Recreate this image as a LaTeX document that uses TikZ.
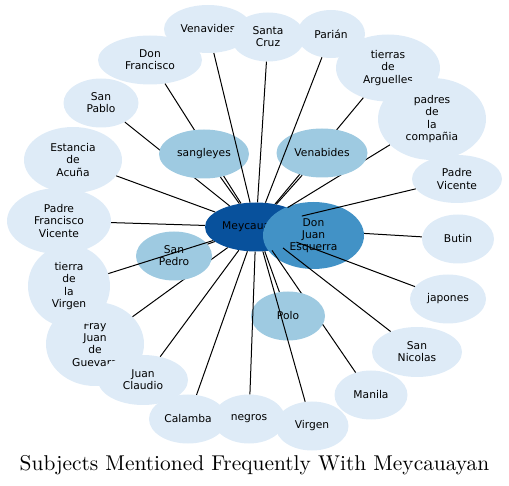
\documentclass[tikz,border=0pt]{standalone}
\usepackage{fontspec}
\usepackage{graphicx}
\newfontfamily\nodefont{DejaVu Sans}
\usetikzlibrary{shapes.geometric}
\definecolor{lightb}{HTML}{DEEBF7}
\definecolor{midb}{HTML}{9ECAE1}
\definecolor{djeb}{HTML}{4292C6}
\definecolor{darkb}{HTML}{08519C}
\pgfdeclarelayer{under}
\pgfsetlayers{under,main}
\begin{document}
\begin{tikzpicture}[x=1pt,y=-1pt,
  bubble/.style={ellipse, inner sep=0pt, align=center, text=black,
    font=\nodefont\fontsize{10.7}{12.2}\selectfont},
  sz/.style 2 args={minimum width=#1pt, minimum height=#2pt},
  lnode/.style={bubble, fill=lightb},
  mnode/.style={bubble, fill=midb},
  dnode/.style={bubble, fill=djeb},
  hub/.style={bubble, fill=darkb},
  link/.style={draw=black, line width=1pt},
  titlestyle/.style={rectangle, inner sep=0pt, text=black, font=\fontsize{10}{12}\selectfont}]
\useasboundingbox (0,0) rectangle (509,486);
% outer nodes
\node[lnode, sz={88}{48}] (venavides) at (208,29) {Venavides};
\node[lnode, sz={74}{49}] (santacruz) at (268,37) {Santa\\Cruz};
\node[lnode, sz={68}{48}] (parian) at (331,34) {Parián};
\node[lnode, sz={104}{67}] (tierras) at (388,68) {tierras\\de\\Arguelles};
\node[lnode, sz={108}{82}] (padres) at (432,119) {padres\\de\\la\\compañia};
\node[lnode, sz={90}{48}] (padrevicente) at (457,179) {Padre\\Vicente};
\node[lnode, sz={72}{49}] (butin) at (458,239) {Butin};
\node[lnode, sz={76}{49}] (japones) at (448,299) {japones};
\node[lnode, sz={90}{50}] (sannicolas) at (417,352) {San\\Nicolas};
\node[lnode, sz={73}{49}] (manila) at (371,395) {Manila};
\node[lnode, sz={73}{49}] (virgen) at (312,426) {Virgen};
\node[lnode, sz={72}{49}] (negros) at (249,419) {negros};
\node[lnode, sz={78}{49}] (calamba) at (188,419) {Calamba};
\node[lnode, sz={98}{84}] (fray) at (95,344) {Fray\\Juan\\de\\Guevara};
\node[lnode, sz={90}{50}] (juanclaudio) at (143,380) {Juan\\Claudio};
\node[lnode, sz={82}{82}] (tierravirgen) at (69,286) {tierra\\de\\la\\Virgen};
\node[lnode, sz={104}{66}] (padrefrancisco) at (59,221) {Padre\\Francisco\\Vicente};
\node[lnode, sz={98}{66}] (estancia) at (73,160) {Estancia\\de\\Acuña};
\node[lnode, sz={75}{49}] (sanpablo) at (101,103) {San\\Pablo};
\node[lnode, sz={104}{49}] (donfrancisco) at (150,60) {Don\\Francisco};
% hub and second node
\node[dnode, sz={101}{67}] (dje) at (313.5,235.5) {Don\\Juan\\Esquerra};
\begin{pgfonlayer}{under}
\node[hub, sz={102}{49}] (mey) at (256,227) {Meycauayan};
\draw[link] (mey) -- (butin);
\draw[link] (mey) -- (dje);
\end{pgfonlayer}
\draw[link] (mey) -- (manila);
\draw[link] (mey) -- (sanpablo);
\draw[link] (mey) -- (donfrancisco);
\draw[link] (mey) -- (tierras);
\draw[link] (mey) -- (padres);
\draw[link] (mey) -- (fray);
% inner nodes
\node[mnode, sz={90}{49}] (sangleyes) at (204,154) {sangleyes};
\node[mnode, sz={91}{49}] (venabides) at (322,153) {Venabides};
\node[mnode, sz={76}{49}] (sanpedro) at (174,256) {San\\Pedro};
\node[mnode, sz={74}{49}] (polo) at (288,316) {Polo};
% remaining edges
\draw[link] (mey) -- (sangleyes);
\draw[link] (mey) -- (venabides);
\draw[link] (mey) -- (sanpedro);
\draw[link] (mey) -- (polo);
\draw[link] (mey) -- (venavides);
\draw[link] (mey) -- (santacruz);
\draw[link] (mey) -- (parian);
\draw[link] (mey) -- (padrevicente);
\draw[link] (mey) -- (japones);
\draw[link] (mey) -- (sannicolas);
\draw[link] (mey) -- (virgen);
\draw[link] (mey) -- (negros);
\draw[link] (mey) -- (calamba);
\draw[link] (mey) -- (juanclaudio);
\draw[link] (mey) -- (tierravirgen);
\draw[link] (mey) -- (padrefrancisco);
\draw[link] (mey) -- (estancia);
% title
\node[titlestyle] (title) at (254.5,465) {\scalebox{2.14}{Subjects Mentioned Frequently With Meycauayan}};
\end{tikzpicture}
\end{document}
